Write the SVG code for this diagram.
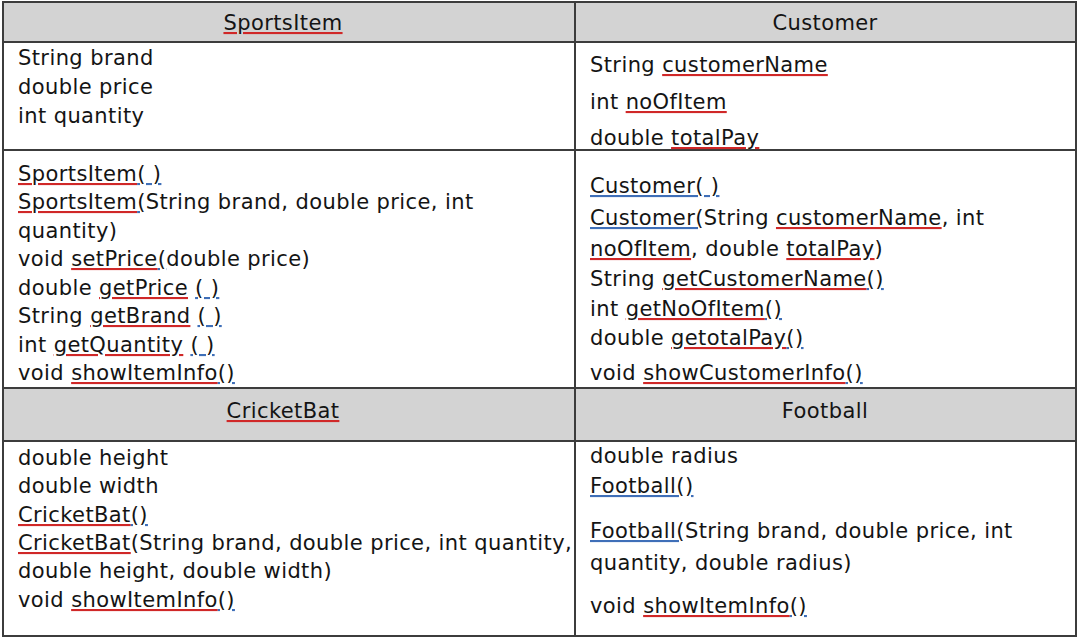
<svg xmlns="http://www.w3.org/2000/svg" width="1080" height="638" viewBox="0 0 1080 638">
<style>
.bg{fill:#ffffff}
.hd{fill:#d3d3d3;stroke:#3c3c3c;stroke-width:2}
.bx{fill:#ffffff;stroke:#3c3c3c;stroke-width:2}
text{font-family:"DejaVu Sans","Liberation Sans",sans-serif;font-size:21px;letter-spacing:0.4px;fill:#141414}
.c{text-anchor:middle}
.sp{fill:#d02828;text-decoration:underline}
.gr{fill:#3f6fb8;text-decoration:underline}
.k{fill:#141414}
</style>
<rect class="bg" x="0" y="0" width="1080" height="638"/>
<g id="SportsItem">
<rect class="hd" x="3" y="2" width="572" height="40"/>
<rect class="bx" x="3" y="42" width="572" height="108"/>
<rect class="bx" x="3" y="150" width="572" height="238"/>
<text class="c" x="283" y="30"><tspan class="sp"><tspan class="k">SportsItem</tspan></tspan></text>
<text x="18" y="65">String brand</text>
<text x="18" y="94">double price</text>
<text x="18" y="123">int quantity</text>
<text x="18" y="181"><tspan class="sp"><tspan class="k">SportsItem</tspan></tspan><tspan class="gr"><tspan class="k">( )</tspan></tspan></text>
<text x="18" y="209"><tspan class="sp"><tspan class="k">SportsItem</tspan></tspan><tspan class="gr"><tspan class="k">(</tspan></tspan>String brand, double price, int</text>
<text x="18" y="238">quantity)</text>
<text x="18" y="266">void <tspan class="sp"><tspan class="k">setPrice</tspan></tspan><tspan class="gr"><tspan class="k">(</tspan></tspan>double price)</text>
<text x="18" y="295">double <tspan class="sp"><tspan class="k">getPrice</tspan></tspan> <tspan class="gr"><tspan class="k">( )</tspan></tspan></text>
<text x="18" y="323">String <tspan class="sp"><tspan class="k">getBrand</tspan></tspan> <tspan class="gr"><tspan class="k">( )</tspan></tspan></text>
<text x="18" y="352">int <tspan class="sp"><tspan class="k">getQuantity</tspan></tspan> <tspan class="gr"><tspan class="k">( )</tspan></tspan></text>
<text x="18" y="380">void <tspan class="sp"><tspan class="k">showItemInfo</tspan></tspan><tspan class="gr"><tspan class="k">()</tspan></tspan></text>
</g>
<g id="Customer">
<rect class="hd" x="575" y="2" width="501" height="40"/>
<rect class="bx" x="575" y="42" width="501" height="108"/>
<rect class="bx" x="575" y="150" width="501" height="238"/>
<text class="c" x="825" y="30">Customer</text>
<text x="590" y="72">String <tspan class="sp"><tspan class="k">customerName</tspan></tspan></text>
<text x="590" y="109">int <tspan class="sp"><tspan class="k">noOfItem</tspan></tspan></text>
<text x="590" y="145">double <tspan class="sp"><tspan class="k">totalPay</tspan></tspan></text>
<text x="590" y="193"><tspan class="gr"><tspan class="k">Customer( )</tspan></tspan></text>
<text x="590" y="225"><tspan class="gr"><tspan class="k">Customer(</tspan></tspan>String <tspan class="sp"><tspan class="k">customerName</tspan></tspan>, int</text>
<text x="590" y="256"><tspan class="sp"><tspan class="k">noOfItem</tspan></tspan>, double <tspan class="sp"><tspan class="k">totalPay</tspan></tspan>)</text>
<text x="590" y="286">String <tspan class="sp"><tspan class="k">getCustomerName</tspan></tspan><tspan class="gr"><tspan class="k">()</tspan></tspan></text>
<text x="590" y="316">int <tspan class="sp"><tspan class="k">getNoOfItem</tspan></tspan><tspan class="gr"><tspan class="k">()</tspan></tspan></text>
<text x="590" y="345">double <tspan class="sp"><tspan class="k">getotalPay</tspan></tspan><tspan class="gr"><tspan class="k">()</tspan></tspan></text>
<text x="590" y="380">void <tspan class="sp"><tspan class="k">showCustomerInfo</tspan></tspan><tspan class="gr"><tspan class="k">()</tspan></tspan></text>
</g>
<g id="CricketBat">
<rect class="hd" x="3" y="388" width="572" height="53"/>
<rect class="bx" x="3" y="441" width="572" height="195"/>
<text class="c" x="283" y="418"><tspan class="sp"><tspan class="k">CricketBat</tspan></tspan></text>
<text x="18" y="465">double height</text>
<text x="18" y="493">double width</text>
<text x="18" y="522"><tspan class="sp"><tspan class="k">CricketBat</tspan></tspan><tspan class="gr"><tspan class="k">()</tspan></tspan></text>
<text x="18" y="550"><tspan class="sp"><tspan class="k">CricketBat</tspan></tspan>(String brand, double price, int quantity,</text>
<text x="18" y="578">double height, double width)</text>
<text x="18" y="607">void <tspan class="sp"><tspan class="k">showItemInfo</tspan></tspan><tspan class="gr"><tspan class="k">()</tspan></tspan></text>
</g>
<g id="Football">
<rect class="hd" x="575" y="388" width="501" height="53"/>
<rect class="bx" x="575" y="441" width="501" height="195"/>
<text class="c" x="825" y="418">Football</text>
<text x="590" y="463">double radius</text>
<text x="590" y="493"><tspan class="gr"><tspan class="k">Football()</tspan></tspan></text>
<text x="590" y="538"><tspan class="gr"><tspan class="k">Football(</tspan></tspan>String brand, double price, int</text>
<text x="590" y="570">quantity, double radius)</text>
<text x="590" y="613">void <tspan class="sp"><tspan class="k">showItemInfo</tspan></tspan><tspan class="gr"><tspan class="k">()</tspan></tspan></text>
</g>
<g id="connectors"></g>
</svg>
